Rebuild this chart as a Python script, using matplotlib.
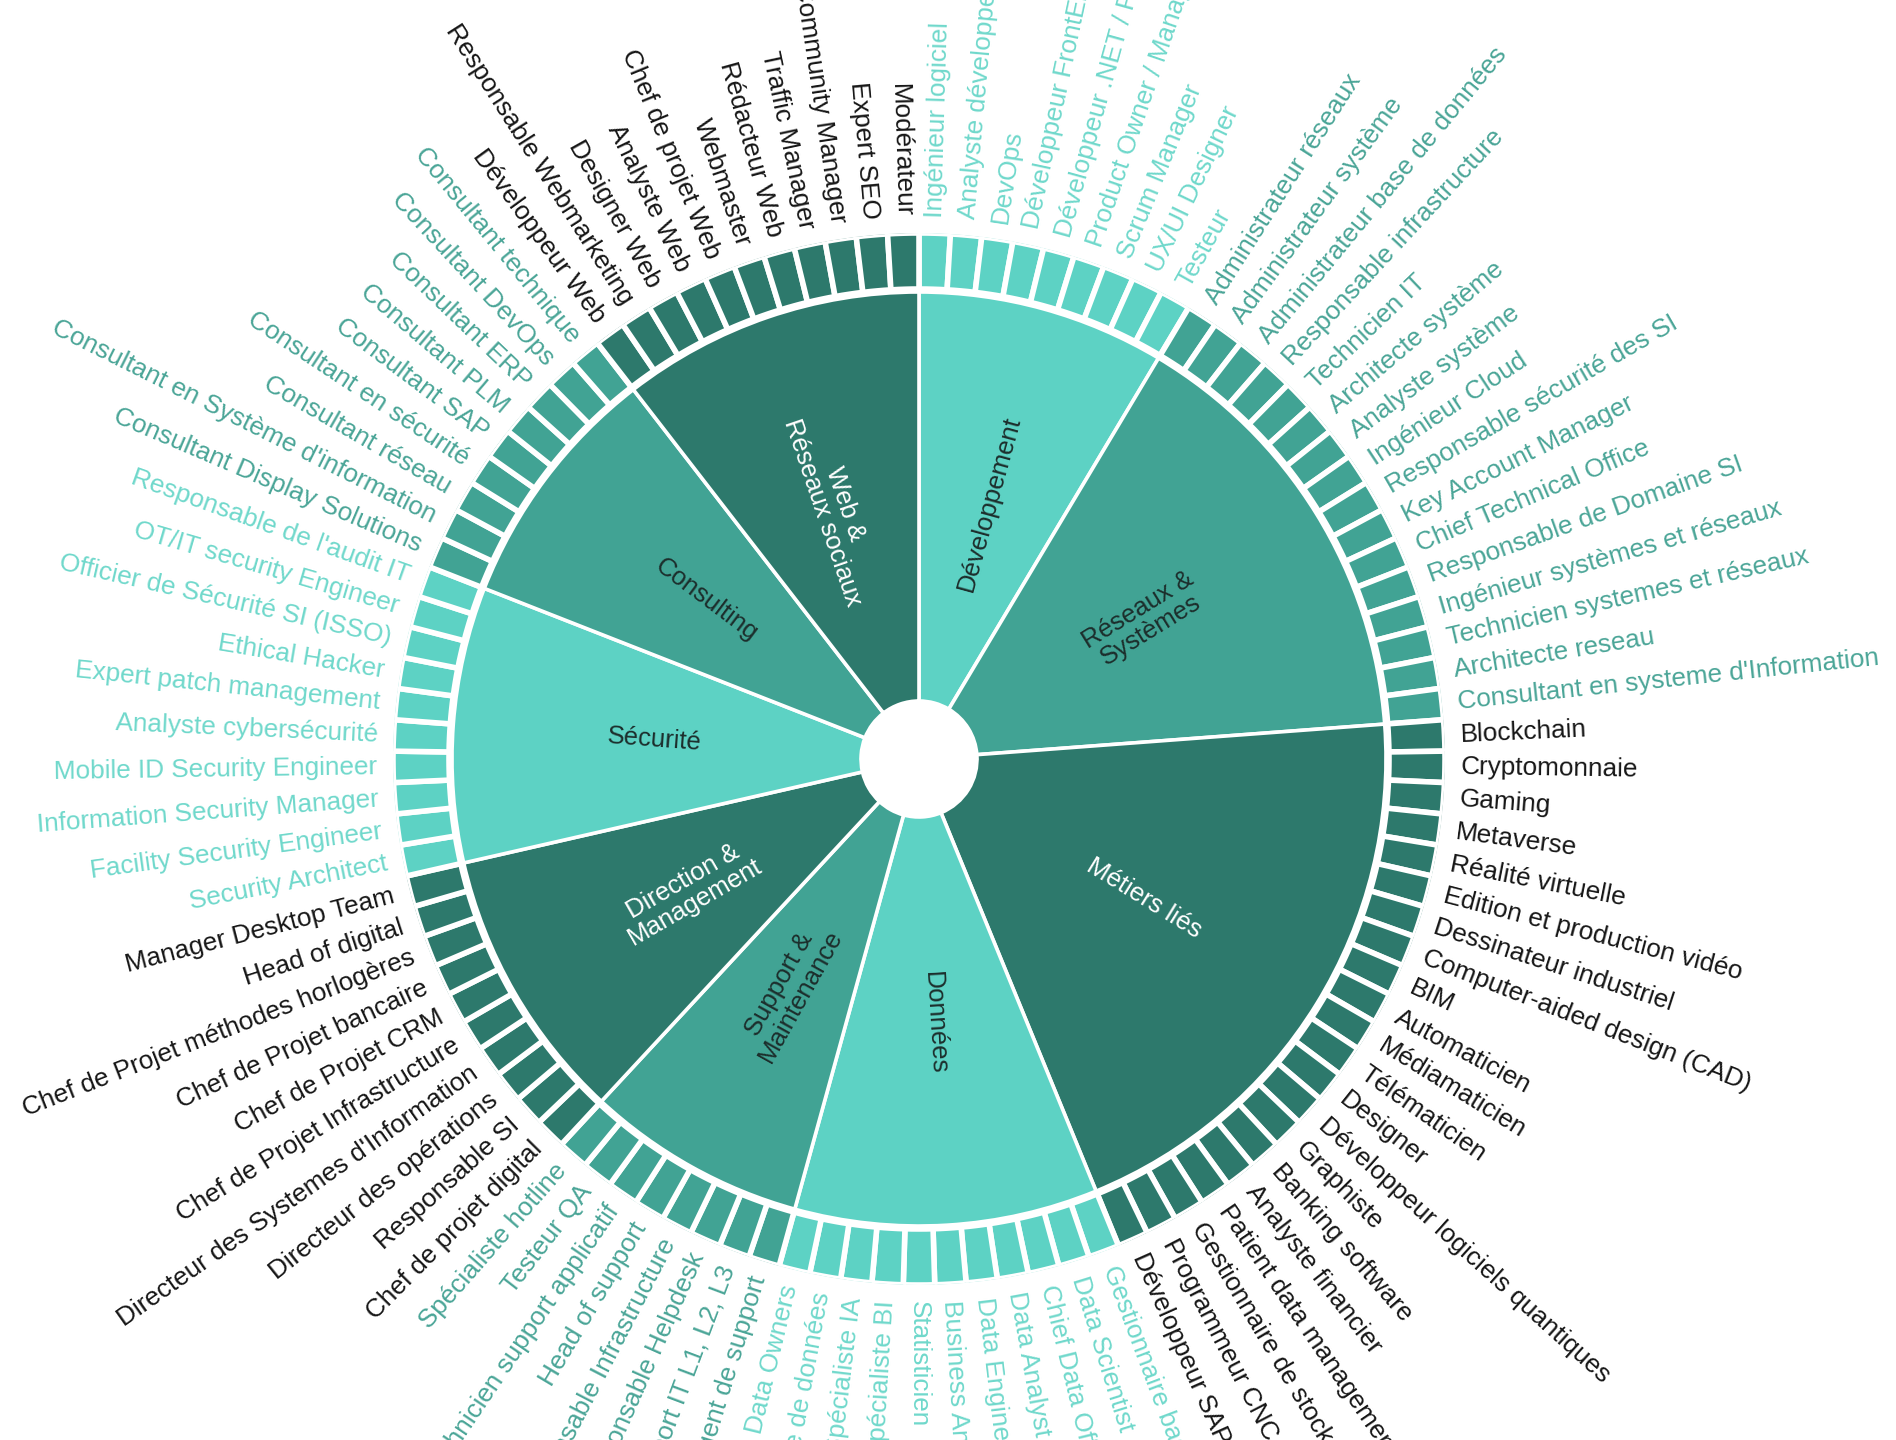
import numpy as np
import matplotlib.pyplot as plt

plt.rcParams['font.family'] = ['Liberation Sans', 'DejaVu Sans']

# ---------------------------------------------------------------
# data: categories (clockwise from 12 o'clock) and their jobs
# ---------------------------------------------------------------

categories = [
    "Développement", "Réseaux &\nSystèmes", "Métiers liés", "Données",
    "Support &\nMaintenance", "Direction &\nManagement", "Sécurité",
    "Consulting", "Web &\nRéseaux sociaux",
]
shades = ["light", "medium", "dark", "light", "medium", "dark",
          "light", "medium", "dark"]

jobs_dev = [
    "Ingénieur logiciel", "Analyste développeur", "DevOps",
    "Développeur FrontEnd", "Développeur .NET / Fullstack",
    "Product Owner / Manager", "Scrum Manager", "UX/UI Designer", "Testeur",
]
jobs_reseaux = [
    "Administrateur réseaux", "Administrateur système",
    "Administrateur base de données", "Responsable infrastructure",
    "Technicien IT", "Architecte système", "Analyste système",
    "Ingénieur Cloud", "Responsable sécurité des SI", "Key Account Manager",
    "Chief Technical Office", "Responsable de Domaine SI",
    "Ingénieur systèmes et réseaux", "Technicien systemes et réseaux",
    "Architecte reseau", "Consultant en systeme d'Information",
]
jobs_metiers = [
    "Blockchain", "Cryptomonnaie", "Gaming", "Metaverse", "Réalité virtuelle",
    "Edition et production vidéo", "Dessinateur industriel",
    "Computer-aided design (CAD)", "BIM", "Automaticien", "Médiamaticien",
    "Télématicien", "Designer", "Développeur logiciels quantiques",
    "Graphiste", "Banking software", "Analyste financier",
    "Patient data management", "Gestionnaire de stock", "Programmeur CNC",
    "Développeur SAP",
]
jobs_donnees = [
    "Gestionnaire base de données", "Data Scientist", "Chief Data Officer",
    "Data Analyst", "Data Engineer", "Business Analyst", "Statisticien",
    "Spécialiste BI", "Spécialiste IA", "Architecte de données", "Data Owners",
]
jobs_support = [
    "Agent de support", "Support IT L1, L2, L3", "Responsable Helpdesk",
    "Responsable Infrastructure", "Head of support",
    "Technicien support applicatif", "Testeur QA", "Spécialiste hotline",
]
jobs_direction = [
    "Chef de projet digital", "Responsable SI", "Directeur des opérations",
    "Directeur des Systemes d'Information", "Chef de Projet Infrastructure",
    "Chef de Projet CRM", "Chef de Projet bancaire",
    "Chef de Projet méthodes horlogères", "Head of digital",
    "Manager Desktop Team",
]
jobs_securite = [
    "Security Architect", "Facility Security Engineer",
    "Information Security Manager", "Mobile ID Security Engineer",
    "Analyste cybersécurité", "Expert patch management", "Ethical Hacker",
    "Officier de Sécurité SI (ISSO)", "OT/IT security Engineer",
    "Responsable de l'audit IT",
]
jobs_consulting = [
    "Consultant Display Solutions", "Consultant en Système d'information",
    "Consultant réseau", "Consultant en sécurité", "Consultant SAP",
    "Consultant PLM", "Consultant ERP", "Consultant DevOps",
    "Consultant technique",
]
jobs_web = [
    "Développeur Web", "Responsable Webmarketing", "Designer Web",
    "Analyste Web", "Chef de projet Web", "Webmaster", "Rédacteur Web",
    "Traffic Manager", "Community Manager", "Expert SEO", "Modérateur",
]

jobs = [jobs_dev, jobs_reseaux, jobs_metiers, jobs_donnees, jobs_support,
        jobs_direction, jobs_securite, jobs_consulting, jobs_web]

fill = {"light": "#5dd2c4", "medium": "#41a394", "dark": "#2d796c"}
label_col = {"light": "#6fd8cb", "medium": "#4aa597", "dark": "#161616"}
inner_col = {"light": "#1c2e2c", "medium": "#1c2e2c", "dark": "white"}

# ---------------------------------------------------------------
# layout (pixels)
# ---------------------------------------------------------------

W, H = 1896, 1440
cx, cy = 919, 759          # centre, measured from top-left
R_HOLE, R_IN = 58, 467
R_CELL0, R_CELL1 = 470, 526
R_LAB, R_CAT = 542, 265


def text_angle(theta):
    """screen angle -> (rotation, is_right_side)"""
    a = 90 - np.degrees(theta)
    right = np.cos(np.radians(a)) >= 0
    return (a if right else a + 180), right


fig = plt.figure(figsize=(W / 100, H / 100), dpi=100)
ax = fig.add_axes(
    [(cx - R_CELL1) / W, (H - cy - R_CELL1) / H,
     2 * R_CELL1 / W, 2 * R_CELL1 / H],
    projection='polar'
)
ax.set_theta_zero_location('N')
ax.set_theta_direction(-1)
ax.set_ylim(0, R_CELL1)
ax.axis('off')

n_total = sum(len(j) for j in jobs)
step = 2 * np.pi / n_total

# --------------------------------------------------
# inner ring
# --------------------------------------------------

offset = 0
for cat, shade, jl in zip(categories, shades, jobs):

    n = len(jl)
    theta = (offset + n / 2) * step

    ax.bar(
        theta, R_IN - R_HOLE, width=n * step, bottom=R_HOLE,
        color=fill[shade], edgecolor='white', linewidth=2.6
    )

    rot, _ = text_angle(theta)
    ax.text(
        theta, R_CAT, cat, rotation=rot, rotation_mode='anchor',
        ha='center', va='center', multialignment='center',
        fontsize=18.5, color=inner_col[shade], linespacing=1.0
    )

    # --------------------------------------------------
    # outer cells + labels
    # --------------------------------------------------

    for i, job in enumerate(jl):

        t = (offset + i + 0.5) * step

        ax.bar(
            t, R_CELL1 - R_CELL0, width=step, bottom=R_CELL0,
            color=fill[shade], edgecolor='white', linewidth=4
        )

        rot, right = text_angle(t)
        ax.text(
            t, R_LAB, job, rotation=rot, rotation_mode='anchor',
            ha='left' if right else 'right', va='center',
            fontsize=18.8, color=label_col[shade]
        )

    offset += n

fig.savefig("out.png", dpi=100, facecolor='white')
